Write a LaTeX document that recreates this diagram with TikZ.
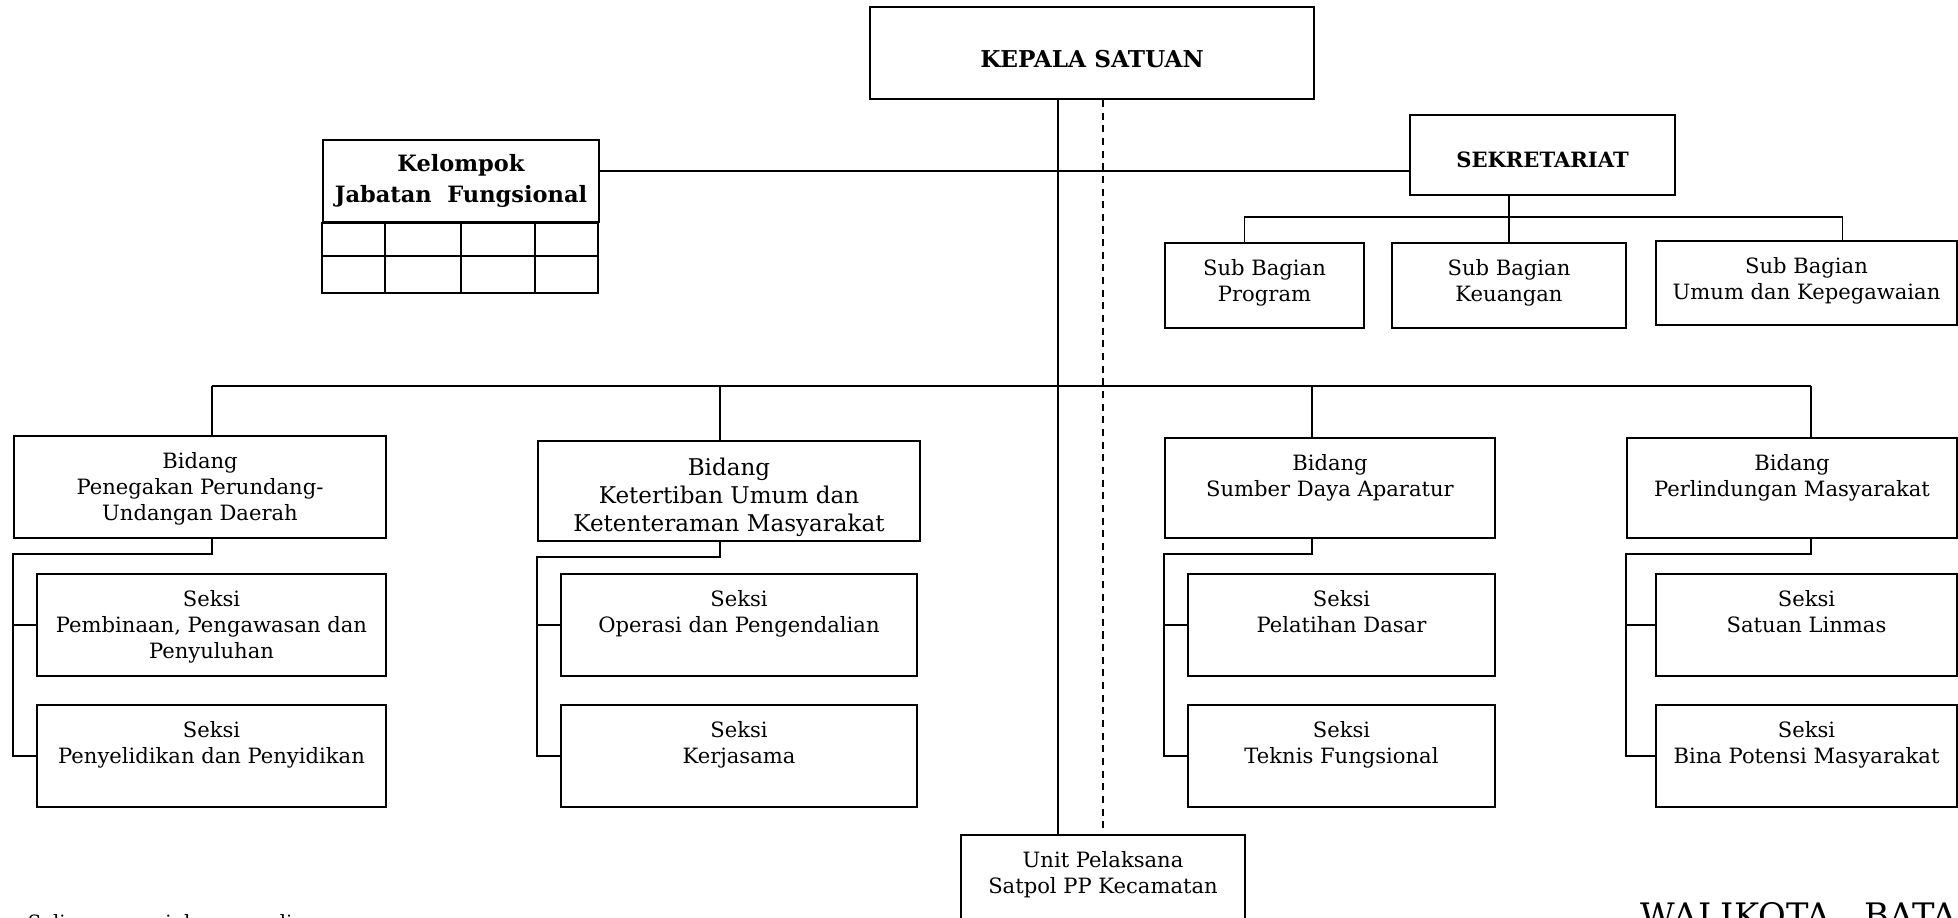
\documentclass[tikz,border=0pt]{standalone}
\usepackage{fontspec}
\setmainfont{DejaVu Serif}

\begin{document}
\begin{tikzpicture}[
    x=0.025cm, y=-0.025cm,
    node distance={3.275cm},
    line width=1.3pt,
    box/.style = {draw, rectangle, inner sep=0pt},
    head/.style = {box, align=center, font=\fontsize{16}{22}\selectfont\bfseries},
    txt/.style = {anchor=north, align=center, inner sep=0pt, yshift=-0.42cm,
                  font=\fontsize{15}{18.5}\selectfont},
    seksi/.style = {box, minimum height=2.55cm},
    bidang/.style = {box, minimum height=2.5cm}
  ]
  \useasboundingbox (0,0) rectangle (1958,918);

  % pimpinan
  \node[box, minimum width=11.1cm, minimum height=2.3cm, text height=0.72cm, text depth=0cm,
        font=\fontsize{16.5}{20}\selectfont\bfseries] (kepala) at (1092,53) {KEPALA SATUAN};
  \node[head, minimum width=6.9cm, minimum height=2.05cm] (kel) at (461,181) {Kelompok\\Jabatan\ \ Fungsional};
  \draw (kel.south west) rectangle ++(276,70);
  \draw ([yshift=-0.825cm]kel.south west) -- ++(276,0);
  \foreach \c in {63,139,213}
    \draw (kel.south west) ++(\c,0) -- ++(0,70);
  \node[head, minimum width=6.625cm, minimum height=2cm, text height=0.64cm, text depth=0cm,
        font=\fontsize{15}{20}\selectfont\bfseries] (sek) at (1542.5,155) {SEKRETARIAT};

  % sub bagian
  \node[box, minimum width=4.975cm, minimum height=2.125cm, label={[txt]north:{Sub Bagian\\Program}}] (pg) at (1264.5,285.5) {};
  \node[box, minimum width=5.85cm, minimum height=2.125cm, label={[txt]north:{Sub Bagian\\Keuangan}}] (ku) at (1509,285.5) {};
  \node[box, minimum width=7.525cm, minimum height=2.1cm, label={[txt]north:{Sub Bagian\\Umum dan Kepegawaian}}] (um) at (1806.5,283) {};

  % bidang
  \node[bidang, minimum width=9.3cm, minimum height=2.55cm, label={[txt]north:{Bidang\\Penegakan Perundang-\\Undangan Daerah}}] (b1) at (200,487) {};
  \node[bidang, minimum width=9.55cm, label={[txt, font=\fontsize{16.4}{20}\selectfont]north:{Bidang\\Ketertiban Umum dan\\Ketenteraman Masyarakat}}] (b2) at (729,491) {};
  \node[bidang, minimum width=8.25cm, label={[txt]north:{Bidang\\Sumber Daya Aparatur}}] (b3) at (1330,488) {};
  \node[bidang, minimum width=8.25cm, label={[txt]north:{Bidang\\Perlindungan Masyarakat}}] (b4) at (1792,488) {};

  % seksi
  \node[seksi, minimum width=8.725cm, label={[txt]north:{Seksi\\Pembinaan, Pengawasan dan\\Penyuluhan}}] (s11) at (211.5,625) {};
  \node[seksi, minimum width=8.725cm, label={[txt]north:{Seksi\\Penyelidikan dan Penyidikan}}] (s12) [below of=s11] {};
  \node[seksi, minimum width=8.9cm, label={[txt]north:{Seksi\\Operasi dan Pengendalian}}] (s21) at (739,625) {};
  \node[seksi, minimum width=8.9cm, label={[txt]north:{Seksi\\Kerjasama}}] (s22) [below of=s21] {};
  \node[seksi, minimum width=7.675cm, label={[txt]north:{Seksi\\Pelatihan Dasar}}] (s31) at (1341.5,625) {};
  \node[seksi, minimum width=7.675cm, label={[txt]north:{Seksi\\Teknis Fungsional}}] (s32) [below of=s31] {};
  \node[seksi, minimum width=7.525cm, label={[txt]north:{Seksi\\Satuan Linmas}}] (s41) at (1806.5,625) {};
  \node[seksi, minimum width=7.525cm, label={[txt]north:{Seksi\\Bina Potensi Masyarakat}}] (s42) [below of=s41] {};

  \node[box, minimum width=7.1cm, minimum height=2.25cm, label={[txt]north:{Unit Pelaksana\\Satpol PP Kecamatan}}] (unit) at (1103,880) {};

  \node[anchor=north west, inner sep=0pt, font=\fontsize{14}{17}\selectfont] (salinan) at (27,914) {Salinan sesuai dengan aslinya};
  \node[anchor=north west, inner sep=0pt, font=\fontsize{24}{28}\selectfont] (walikota) at (1640,902) {WALIKOTA\quad BATAM};

  % garis komando
  \draw ([xshift=-0.85cm]kepala.south) -- ([xshift=-0.85cm]kepala.south |- unit.north);
  \draw[dash pattern=on 5pt off 4pt] (kepala.south -| unit.north) -- (unit.north);
  \draw ([yshift=0.25cm]kel.east) -- ([yshift=0.25cm]kel.east -| sek.west);
  \draw (sek.south -| ku.north) -- (ku.north);
  \draw ([xshift=-0.5cm]pg.north) -- ++(0,-25) -| ([xshift=0.9cm]um.north);

  \coordinate (bus) at (0,386);
  \draw ([xshift=0.3cm]b1.north |- bus) -- ([xshift=0.475cm]b4.north |- bus);
  \foreach \i/\s in {1/0.3, 2/-0.225, 3/-0.45, 4/0.475} {
    \draw ([xshift=\s cm]b\i.north |- bus) -- ([xshift=\s cm]b\i.north);
    \draw ([xshift=\s cm]b\i.south) -- ++(0,15) -| (b\i.west |- s\i2.west) -- (s\i2.west);
    \draw (b\i.west |- s\i1.west) -- (s\i1.west);
  }
\end{tikzpicture}
\end{document}
